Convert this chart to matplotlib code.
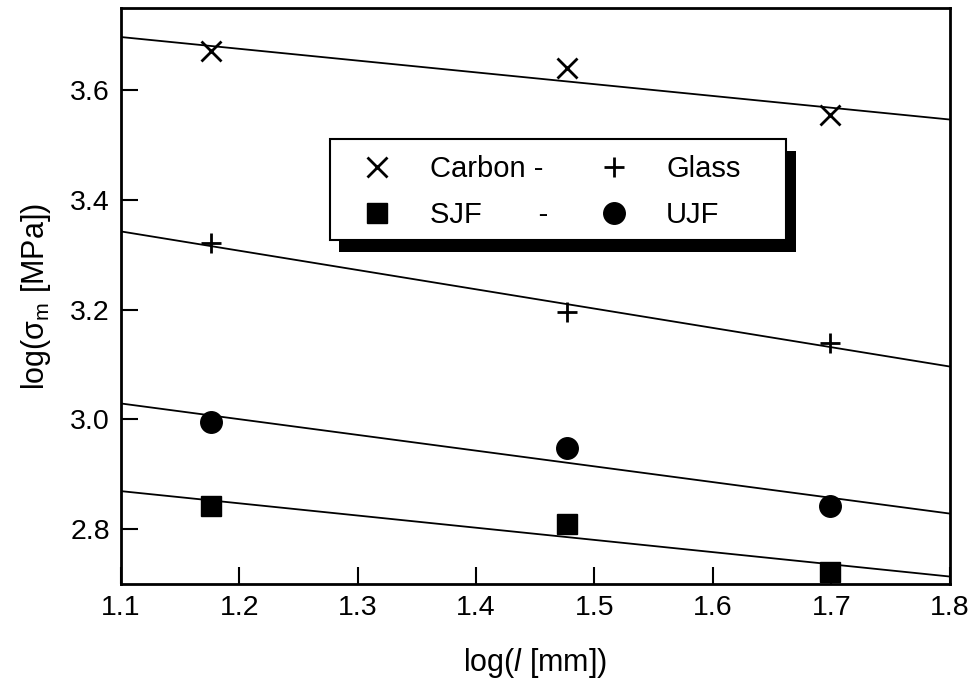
import matplotlib
matplotlib.use("Agg")
import matplotlib.pyplot as plt
import numpy as np
from matplotlib.patches import Rectangle

plt.rcParams["font.family"] = ["Liberation Sans", "DejaVu Sans"]
plt.rcParams["mathtext.fontset"] = "custom"
plt.rcParams["mathtext.rm"] = "Liberation Sans"
plt.rcParams["mathtext.it"] = "Liberation Sans:italic"

# log(l [mm]) for the three specimen lengths
log_l = [1.176, 1.477, 1.699]

carbon = [3.671, 3.640, 3.555]
glass  = [3.322, 3.196, 3.140]
sjf    = [2.842, 2.809, 2.722]
ujf    = [2.996, 2.947, 2.842]

x_ticks = [1.1, 1.2, 1.3, 1.4, 1.5, 1.6, 1.7, 1.8]
y_ticks = [2.8, 3.0, 3.2, 3.4, 3.6]

fig = plt.figure(figsize=(9.75, 6.82), dpi=100)
ax = fig.add_axes([0.124, 0.144, 0.850, 0.844])

x_fit = np.array([1.1, 1.8])
series = [
    (carbon, "x", 15, 2.0),
    (glass, "+", 14, 2.0),
    (sjf, "s", 14.5, 1.0),
    (ujf, "o", 15.5, 1.0),
]
handles = []
for valores, marcador, tamanho, esp in series:
    a, b = np.polyfit(log_l, valores, 1)
    ax.plot(x_fit, a * x_fit + b, color="black", lw=1.3, zorder=2)
    h, = ax.plot(log_l, valores, linestyle="none", marker=marcador,
                 markersize=tamanho, markeredgewidth=esp, color="black", zorder=3)
    handles.append(h)

ax.set_xlim(1.1, 1.8)
ax.set_ylim(2.70, 3.75)
ax.set_xticks(x_ticks)
ax.set_yticks(y_ticks)
ax.set_xticklabels([f"{v:.1f}" for v in x_ticks])
ax.set_yticklabels([f"{v:.1f}" for v in y_ticks])
ax.tick_params(direction="in", length=12, width=1.5, labelsize=20.5, pad=8,
               top=False, right=False)
for s in ax.spines.values():
    s.set_linewidth(2)

ax.set_xlabel(r"log($\mathit{l}$ [mm])", fontsize=22, labelpad=18)
ax.set_ylabel(r"log(σ$_{\mathrm{m}}$ [MPa])", fontsize=22, labelpad=12)

# legend box with a solid black drop shadow
caixa = (0.252, 0.597, 0.551, 0.176)
ax.add_patch(Rectangle((caixa[0] + 0.011, caixa[1] - 0.021), caixa[2], caixa[3],
                       transform=ax.transAxes, facecolor="black", edgecolor="none",
                       zorder=4))
ax.add_patch(Rectangle((caixa[0], caixa[1]), caixa[2], caixa[3],
                       transform=ax.transAxes, facecolor="white", edgecolor="black",
                       lw=1.5, zorder=5))
leg = ax.legend([handles[0], handles[2], handles[1], handles[3]],
                ["Carbon -", "SJF       -", "Glass", "UJF"],
                ncol=2, loc="center", bbox_to_anchor=(0.518, 0.68),
                frameon=False, fontsize=21, handlelength=1.2, handletextpad=1.2,
                columnspacing=1.65, labelspacing=0.62)
leg.set_zorder(6)

fig.savefig("out.png", dpi=100)
